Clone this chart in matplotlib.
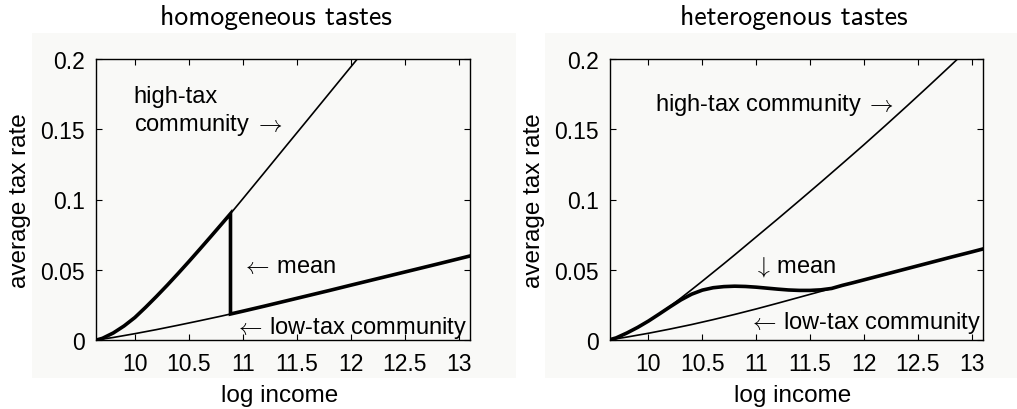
import matplotlib
matplotlib.use("Agg")
import matplotlib.pyplot as plt
from matplotlib.patches import Rectangle

# log income grid and average tax rates, homogeneous tastes
hom_x_high = [9.645, 9.7, 9.8, 9.9, 10.0, 10.1, 10.2, 10.3, 10.4, 10.5, 10.6, 10.7, 10.8,
              10.886, 11.0, 11.2, 11.4, 11.6, 11.8, 12.0, 12.2]
hom_high = [0.0, 0.0012, 0.005, 0.010, 0.016, 0.0233, 0.031, 0.039, 0.0473, 0.0558, 0.0645,
            0.0733, 0.0822, 0.0899, 0.1005, 0.1192, 0.138, 0.1567, 0.1755, 0.1943, 0.213]
hom_x_low = [9.645, 9.8, 10.0, 10.2, 10.4, 10.6, 10.8, 10.886, 11.0, 11.2, 11.4, 11.6, 11.8,
             12.0, 12.4, 12.8, 13.11]
hom_low = [0.0, 0.0018, 0.0045, 0.0074, 0.0105, 0.0137, 0.017, 0.0185, 0.0205, 0.0241, 0.0278,
           0.0315, 0.0352, 0.039, 0.0465, 0.054, 0.0599]
hom_switch = 10.886   # mean jumps from high-tax to low-tax here

# heterogenous tastes
het_x_high = [9.63, 9.7, 9.8, 9.9, 10.0, 10.1, 10.2, 10.3, 10.4, 10.5, 10.6, 10.7, 10.8, 10.9,
              11.0, 11.2, 11.4, 11.6, 11.8, 12.0, 12.2, 12.4, 12.6, 12.8, 13.0, 13.1]
het_high = [0.0, 0.0015, 0.005, 0.009, 0.0135, 0.0186, 0.024, 0.0298, 0.0358, 0.0419, 0.0481,
            0.0543, 0.0606, 0.067, 0.0734, 0.0862, 0.0992, 0.1123, 0.1256, 0.139, 0.1527,
            0.1666, 0.1807, 0.195, 0.2095, 0.2168]
het_x_low = [9.63, 9.8, 10.0, 10.2, 10.4, 10.6, 10.8, 11.0, 11.2, 11.4, 11.6, 11.8, 12.0, 12.2,
             12.4, 12.6, 12.8, 13.0, 13.1]
het_low = [0.0, 0.0021, 0.0048, 0.0078, 0.011, 0.0145, 0.0182, 0.0221, 0.0262, 0.0304, 0.0346,
           0.0387, 0.0428, 0.0468, 0.0508, 0.0548, 0.0588, 0.0627, 0.0647]
het_x_mean = [9.63, 9.7, 9.8, 9.9, 10.0, 10.1, 10.2, 10.3, 10.4, 10.5, 10.6, 10.7, 10.8, 10.9,
              11.0, 11.1, 11.2, 11.3, 11.4, 11.5, 11.6, 11.7, 11.8, 11.9, 12.0, 12.2, 12.4,
              12.6, 12.8, 13.0, 13.1]
het_mean = [0.0, 0.0015, 0.005, 0.009, 0.0135, 0.0185, 0.0236, 0.0285, 0.0326, 0.0355, 0.0372,
            0.038, 0.0383, 0.0381, 0.0376, 0.0369, 0.0362, 0.0356, 0.0353, 0.0353, 0.0357,
            0.0367, 0.0389, 0.0408, 0.0428, 0.0468, 0.0508, 0.0548, 0.0588, 0.0627, 0.0647]

xticks = [10, 10.5, 11, 11.5, 12, 12.5, 13]
xticklabels = ["10", "10.5", "11", "11.5", "12", "12.5", "13"]
yticks = [0, 0.05, 0.1, 0.15, 0.2]
yticklabels = ["0", "0.05", "0.1", "0.15", "0.2"]

SANS = ["Liberation Sans", "DejaVu Sans"]
BG = "#f9f9f7"
THIN, THICK = 1.2, 2.6

plt.rcParams["font.family"] = SANS
plt.rcParams["mathtext.fontset"] = "cm"

fig = plt.figure(figsize=(10.17, 4.10), dpi=100)
fig.patch.set_facecolor("white")
W, H = 1017.0, 410.0

# grey backdrops behind each panel
for x0, x1 in [(32, 516), (545, 1017)]:
    fig.patches.append(Rectangle((x0 / W, 1 - 379 / H), (x1 - x0) / W, (379 - 34) / H,
                                 transform=fig.transFigure, facecolor=BG, edgecolor="none",
                                 zorder=-10))

ax1 = fig.add_axes([96 / W, 1 - 341 / H, (470 - 96) / W, (341 - 60) / H])
ax2 = fig.add_axes([609.7 / W, 1 - 341 / H, (983 - 609.7) / W, (341 - 60) / H])

# homogeneous tastes
ax1.plot(hom_x_high, hom_high, color="black", lw=THIN)
ax1.plot(hom_x_low, hom_low, color="black", lw=THIN)
mean_x = [x for x in hom_x_high if x <= hom_switch] + [hom_switch] + \
         [x for x in hom_x_low if x > hom_switch]
mean_y = [y for x, y in zip(hom_x_high, hom_high) if x <= hom_switch] + \
         [y for x, y in zip(hom_x_low, hom_low) if x == hom_switch] + \
         [y for x, y in zip(hom_x_low, hom_low) if x > hom_switch]
ax1.plot(mean_x, mean_y, color="black", lw=THICK, solid_joinstyle="miter")

# heterogenous tastes
ax2.plot(het_x_high, het_high, color="black", lw=THIN)
ax2.plot(het_x_low, het_low, color="black", lw=THIN)
ax2.plot(het_x_mean, het_mean, color="black", lw=THICK)

for ax in (ax1, ax2):
    ax.set_facecolor(BG)
    ax.set_xlim(9.64, 13.105)
    ax.set_ylim(0, 0.2)
    ax.set_xticks(xticks)
    ax.set_xticklabels(xticklabels)
    ax.set_yticks(yticks)
    ax.set_yticklabels(yticklabels)
    ax.tick_params(direction="in", length=4, width=0.8, top=True, right=True,
                   labelsize=16.5, pad=8)
    ax.tick_params(axis="x", pad=9)
    for s in ax.spines.values():
        s.set_linewidth(1.0)
    ax.set_xlabel("log income", fontsize=17.5, va="top")
    ax.set_ylabel("average tax rate", fontsize=17.5, va="center")
    ax.xaxis.set_label_coords(0.49, -0.155)
    ax.yaxis.set_label_coords(-0.203, 0.5)

fs = 17
ax1.text(9.99, 0.174, "high-tax", fontsize=fs, va="center")
ax1.text(9.99, 0.1537, r"community$\;\rightarrow$", fontsize=fs, va="center")
ax1.text(10.98, 0.0529, r"$\leftarrow\,$mean", fontsize=fs, va="center")
ax1.text(10.917, 0.009, r"$\leftarrow\,$low-tax community", fontsize=fs, va="center")

ax2.text(10.06, 0.168, r"high-tax community$\;\rightarrow$", fontsize=fs, va="center")
ax2.text(10.967, 0.0529, r"$\downarrow\,$mean", fontsize=fs, va="center")
ax2.text(10.928, 0.0126, r"$\leftarrow\,$low-tax community", fontsize=fs, va="center")

fig.text(276 / W, 1 - 18 / H, "homogeneous tastes", family="cmss10", fontsize=20,
         ha="center", va="center")
fig.text(794 / W, 1 - 18 / H, "heterogenous tastes", family="cmss10", fontsize=20,
         ha="center", va="center")

fig.savefig("out.png", dpi=100)
